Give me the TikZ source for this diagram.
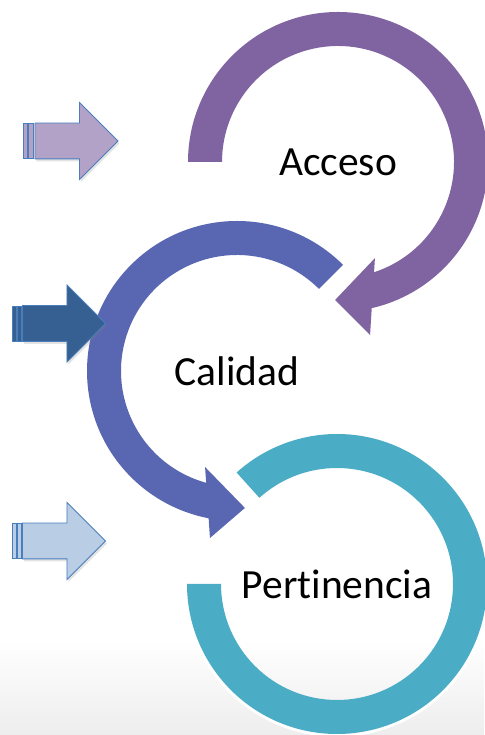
\documentclass[tikz,border=0pt]{standalone}
\usepackage{fontspec}
\setmainfont{Carlito}
\usetikzlibrary{shapes.arrows,shadows,positioning}
\definecolor{accesocolor}{HTML}{8064A2}
\definecolor{calidadcolor}{RGB}{89,103,178}
\definecolor{pertinenciacolor}{HTML}{4BACC6}
\definecolor{arrowborder}{RGB}{74,126,187}
\definecolor{lilac}{RGB}{179,162,199}
\definecolor{navy}{RGB}{55,96,146}
\definecolor{paleblue}{RGB}{185,205,229}
\tikzset{every label text/.style={font=\fontsize{41.5}{50}\selectfont, text=black, inner sep=0pt},
        ring acceso/.style={fill=accesocolor},
        ring calidad/.style={fill=calidadcolor},
        ring pertinencia/.style={fill=pertinenciacolor},
        side arrow/.style={single arrow, draw=arrowborder, line width=0.9pt,
                           single arrow head extend=20.5pt, minimum height=83pt,
                           inner xsep=0pt, inner ysep=17.5pt, text height=0pt, text depth=0pt,
                           anchor=tail, drop shadow={opacity=.22, shadow xshift=1.5pt, shadow yshift=-2.5pt}},
        stripe/.style={draw=arrowborder, line width=0.9pt},
        }

\begin{document}
\begin{tikzpicture}[x=1pt, y=1pt]
    \useasboundingbox (0,0) rectangle (484,735);
    \fill[white] (0,0) rectangle (484,735);
    \shade[top color=white, bottom color=black!7] (0,0) rectangle (484,95);

    \node[every label text] (acceso) at (338,573) {Acceso};
    \node[every label text] (calidad) at (237,364) {Calidad};
    \node[every label text] (pertinencia) at (337,151) {Pert\kern0pt inencia};

    % Acceso -> Calidad
    \fill[ring acceso] ([shift={(180:150)}]acceso.center) arc[start angle=180, end angle=-77, radius=150]
        -- ([shift={(-79.5:176)}]acceso.center) -- ([shift={(-91.2:138)}]acceso.center)
        -- ([shift={(-69:103)}]acceso.center) -- ([shift={(-71.9:116)}]acceso.center)
        arc[start angle=-71.9, end angle=180, radius=116] -- cycle;
    % Calidad -> Pertinencia
    \fill[ring calidad] ([shift={(45:150)}]calidad.center) arc[start angle=45, end angle=259.1, radius=150]
        -- ([shift={(260.8:169.2)}]calidad.center) -- ([shift={(273.3:137.2)}]calidad.center)
        -- ([shift={(251.6:101.2)}]calidad.center) -- ([shift={(254.6:116)}]calidad.center)
        arc[start angle=254.6, end angle=45, radius=116] -- cycle;
    % Pertinencia
    \draw[white, line width=4pt] ([shift={(200:151)}]pertinencia.center) arc[start angle=200, end angle=340, radius=151];
    \fill[ring pertinencia] ([shift={(180:150)}]pertinencia.center) arc[start angle=180, end angle=492, radius=150]
        -- ([shift={(132:116)}]pertinencia.center) arc[start angle=132, end angle=-180, radius=116] -- cycle;

    \node[side arrow, fill=lilac] (arrowone) at (34.5,594) {};
    \node[side arrow, fill=navy] (arrowtwo) at (22,411.5) {};
    \node[side arrow, fill=paleblue] (arrowthree) at (22,194) {};

    \draw[stripe, fill=lilac] ([shift={(-11,-17.5)}]arrowone.tail) rectangle ([shift={(-7.5,17.5)}]arrowone.tail);
    \draw[stripe, fill=lilac] ([shift={(-6,-17.5)}]arrowone.tail) rectangle ([shift={(-1.5,17.5)}]arrowone.tail);
    \draw[stripe, fill=navy] ([shift={(-9.5,-17.5)}]arrowtwo.tail) rectangle ([shift={(-6,17.5)}]arrowtwo.tail);
    \draw[stripe, fill=navy] ([shift={(-5,-17.5)}]arrowtwo.tail) rectangle ([shift={(-1,17.5)}]arrowtwo.tail);
    \draw[stripe, fill=paleblue] ([shift={(-9.5,-17.5)}]arrowthree.tail) rectangle ([shift={(-6,17.5)}]arrowthree.tail);
    \draw[stripe, fill=paleblue] ([shift={(-5,-17.5)}]arrowthree.tail) rectangle ([shift={(-1,17.5)}]arrowthree.tail);

\end{tikzpicture}
\end{document}
